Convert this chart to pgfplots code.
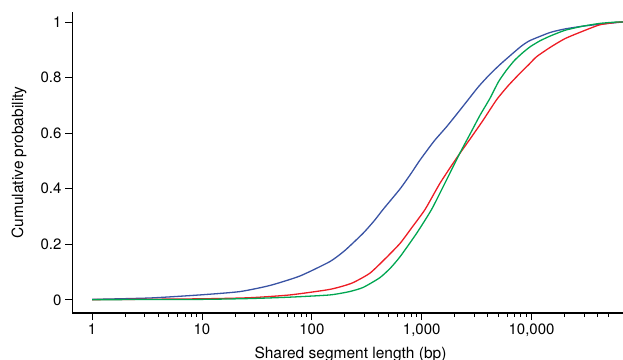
\documentclass[border=0pt]{standalone}
\usepackage{fontspec}
\setmainfont{TeX Gyre Heros}
\usepackage{pgfplots}
\pgfplotsset{compat=1.18}
\definecolor{cblue}{HTML}{3953A4}
\definecolor{cred}{HTML}{ED1C24}
\definecolor{cgreen}{HTML}{00A651}
\begin{document}
\begin{tikzpicture}
\path[use as bounding box] (0,0) rectangle (623bp,360bp);
\clip (0,0) rectangle (623bp,360bp);
\begin{axis}[
  at={(72bp,47bp)}, anchor=south west, scale only axis,
  width=551bp, height=301bp,
  xmode=log, xmin=0.656, xmax=68000, ymin=-0.047, ymax=1.036,
  axis x line*=bottom, axis y line*=left,
  x axis line style={line width=1.6bp},
  y axis line style={line width=0.9bp},
  tick align=outside, major tick length=7bp, minor tick length=3.5bp,
  every tick/.style={black, line width=0.9bp},
  xtick={1,10,100,1000,10000},
  xticklabels={1,10,100,{1,000},{10,000}},
  minor xtick={2,3,4,5,6,7,8,9,20,30,40,50,60,70,80,90,200,300,400,500,600,700,800,900,2000,3000,4000,5000,6000,7000,8000,9000,20000,30000,40000,50000},
  ytick={0,0.2,0.4,0.6,0.8,1},
  yticklabels={0,0.2,0.4,0.6,0.8,1},
  /pgf/number format/assume math mode=true,
  tick label style={font=\fontsize{15bp}{18bp}\selectfont},
  label style={font=\fontsize{15.5bp}{18bp}\selectfont},
  xlabel={Shared segment length (bp)},
  ylabel={Cumulative probability},
  xlabel style={at={(axis description cs:0.5054,-0.1495)}, anchor=base},
  ylabel style={at={(axis description cs:-0.0889,0.5)}, anchor=base},
  every axis plot/.append style={line width=1.3bp, smooth, tension=0.35},
]
\addplot[cblue] coordinates {
(1,0.002) (3.35,0.007) (9.56,0.018) (22.1,0.03) (41.5,0.052) (77.8,0.086)
(146,0.138) (200,0.178) (293,0.24) (370,0.285) (446,0.326) (637,0.40)
(800,0.455) (968,0.504) (1300,0.572) (1684,0.623) (2100,0.67)
(2560,0.713) (3300,0.768) (4178,0.812) (5200,0.848) (6345,0.878)
(8000,0.912) (9640,0.933) (14680,0.962)
(20100,0.975) (29300,0.985) (41900,0.992) (59800,0.998) (68000,1)
};
\addplot[cred] coordinates {
(1,0.001) (9.56,0.004) (27.3,0.008) (63.1,0.018) (146,0.038) (230,0.06) (337,0.096)
(470,0.15) (637,0.204) (830,0.265) (1075,0.326) (1468,0.42) (2075,0.51) (2744,0.578)
(3600,0.645) (4800,0.72) (6100,0.77) (7820,0.815) (9500,0.848) (11100,0.875)
(14680,0.908) (20100,0.94)
(29300,0.967) (41900,0.99) (59800,0.999) (68000,1)
};
\addplot[cgreen] coordinates {
(1,0.001) (9.56,0.002) (27.3,0.005) (63.1,0.01) (146,0.018) (220,0.03) (293,0.045)
(416,0.08) (520,0.115) (637,0.156) (900,0.24) (1232,0.326) (1684,0.432) (2225,0.528)
(2800,0.602) (3400,0.665) (4178,0.725) (5000,0.785) (5920,0.827) (7000,0.862)
(8340,0.89) (9800,0.912) (11900,0.932)
(14680,0.949) (20100,0.97) (29300,0.985) (41900,0.995) (59800,1) (68000,1)
};
\end{axis}
\end{tikzpicture}
\end{document}
